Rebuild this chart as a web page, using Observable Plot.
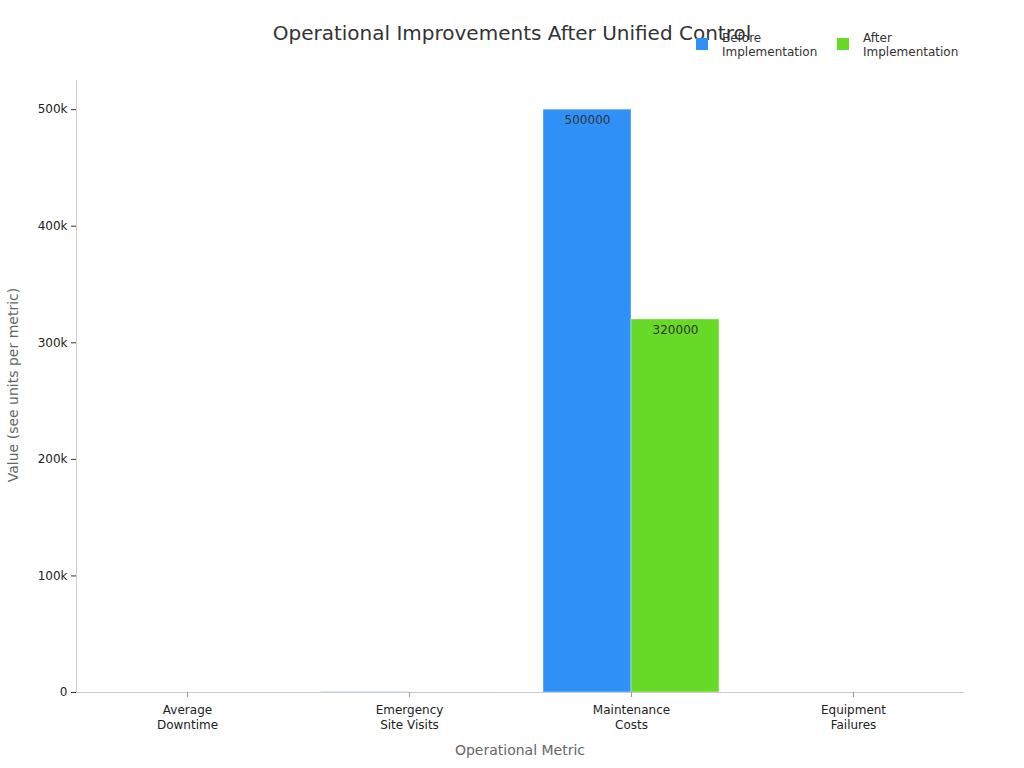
<!DOCTYPE html>
<html><head><meta charset="utf-8">
<script src="https://cdn.jsdelivr.net/npm/d3@7"></script>
<script src="https://cdn.jsdelivr.net/npm/@observablehq/plot@0.6"></script>
<style>
body{margin:0;background:#fff;font-family:"DejaVu Sans",sans-serif;}
#wrap{position:relative;width:1024px;height:768px;overflow:hidden;}
#chart{position:absolute;left:0;top:0;}
#title{position:absolute;left:0;width:1024px;top:20px;text-align:center;font-size:20px;color:#333;line-height:26px;}
.leg{position:absolute;top:31px;font-size:12px;line-height:14px;color:#333;}
.sw{position:absolute;width:12px;height:12px;top:7px;}
.lt{position:absolute;left:26px;white-space:nowrap;}
#ylab{position:absolute;left:13px;top:385px;transform:translate(-50%,-50%) rotate(-90deg);font-size:14px;color:#666;white-space:nowrap;}
#xlab{position:absolute;left:520px;top:750px;transform:translate(-50%,-50%);font-size:14px;color:#666;white-space:nowrap;}
</style>
</head><body>
<div id="wrap">
  <div id="chart"></div>
  <div id="title">Operational Improvements After Unified Control</div>
  <div id="legend"></div>
  <div id="ylab">Value (see units per metric)</div>
  <div id="xlab">Operational Metric</div>
</div>
<script>
const categories = ["Average Downtime", "Emergency Site Visits", "Maintenance Costs", "Equipment Failures"];
const tickLabels = ["Average\nDowntime", "Emergency\nSite Visits", "Maintenance\nCosts", "Equipment\nFailures"];
const series = ["Before Implementation", "After Implementation"];
const legendLabels = ["Before\nImplementation", "After\nImplementation"];
const beforeValues = [12, 240, 500000, 36];
const afterValues = [3, 60, 320000, 12];
const colors = ["#2f91f8", "#67da28"];
const yTicks = [0, 100000, 200000, 300000, 400000, 500000];

const data = categories.flatMap((c, i) => [
  {metric: c, series: series[0], value: beforeValues[i]},
  {metric: c, series: series[1], value: afterValues[i]}
]);

const chart = Plot.plot({
  width: 1024, height: 768,
  marginLeft: 76, marginRight: 60, marginTop: 80, marginBottom: 76,
  style: {fontFamily: "DejaVu Sans", fontSize: "12px", color: "#333", background: "transparent"},
  fx: {domain: categories, padding: 0, label: null},
  x: {domain: series, paddingInner: 0, paddingOuter: 0.25, axis: null},
  y: {domain: [0, 525000], label: null},
  color: {domain: series, range: colors},
  marks: [
    Plot.frame({anchor: "left", stroke: "#ccc", facetAnchor: "left"}),
    Plot.barY(data, {fx: "metric", x: "series", y: "value", fill: "series", stroke: "#fff", strokeOpacity: 0.4, strokeWidth: 1}),
    Plot.ruleY([0], {stroke: "#ccc"}),
    Plot.text(data.filter(d => d.value > 1000), {fx: "metric", x: "series", y: "value", text: d => String(d.value), dy: 11, fill: "#333", fontSize: 12}),
    Plot.axisY({ticks: yTicks, tickFormat: d => d === 0 ? "0" : (d / 1000) + "k", tickSize: 5, tickPadding: 4, stroke: "#333", fill: "#222", fontSize: 12, label: null}),
    Plot.axisFx({anchor: "bottom", tickFormat: d => tickLabels[categories.indexOf(d)], tickSize: 5, tickPadding: 6, stroke: "#999", fill: "#222", fontSize: 12, lineHeight: 1.25, label: null})
  ]
});
document.getElementById("chart").appendChild(chart);

const legend = document.getElementById("legend");
const legX = [696, 837];
series.forEach((s, i) => {
  const item = document.createElement("div");
  item.className = "leg";
  item.style.left = legX[i] + "px";
  const sw = document.createElement("div");
  sw.className = "sw";
  sw.style.background = colors[i];
  const lt = document.createElement("div");
  lt.className = "lt";
  lt.innerHTML = legendLabels[i].split("\n").join("<br>");
  item.appendChild(sw);
  item.appendChild(lt);
  legend.appendChild(item);
});
</script>
</body></html>
